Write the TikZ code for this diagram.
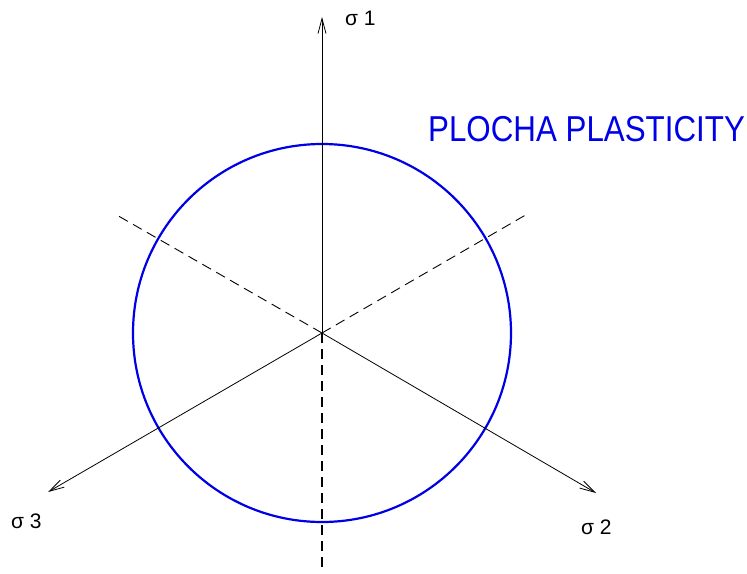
\documentclass[tikz,border=0pt]{standalone}
\usepackage{fontspec}
\setmainfont{Liberation Sans}
\usetikzlibrary{arrows.meta}
\begin{document}
\begin{tikzpicture}[x=1pt,y=-1pt,
  axis/.style={line width=0.8pt,-{Straight Barb[length=15pt,width=8pt,line width=0.8pt]}},
  guide/.style={line width=0.9pt,dash pattern=on 10pt off 6pt},
  guidebold/.style={line width=1.6pt,dash pattern=on 10pt off 6pt},
  surface/.style={draw={rgb,255:red,0;green,0;blue,230},line width=2.2pt},
  lbl/.style={font=\fontsize{21}{24}\selectfont,inner sep=0pt},
  title/.style={text={rgb,255:red,0;green,0;blue,230},font=\fontsize{36}{40}\selectfont,xscale=0.87,inner sep=0pt}]
\useasboundingbox (0,0) rectangle (747,573);
\coordinate (O) at (322,333);
\coordinate (s1) at (322,17);
\coordinate (s3) at (48,492);
\coordinate (s2) at (596,493);
\coordinate (dl) at (115,214);
\coordinate (dr) at (529,213);
\coordinate (db) at (322,573);
\draw[surface] (O) circle[radius=189];
\draw[axis] (O) -- (s1);
\draw[axis] (O) -- (s3);
\draw[axis] (O) -- (s2);
\draw[guide] (O) -- (dl);
\draw[guide] (O) -- (dr);
\draw[guidebold] (O) -- (db);
\node[lbl,anchor=west] (l1) at (345,18) {σ 1};
\node[lbl,anchor=west] (l3) at (11,521) {σ 3};
\node[lbl,anchor=west] (l2) at (581,527) {σ 2};
\node[title,anchor=west] (t) at (428,129) {PLOCHA PLASTICITY};
\end{tikzpicture}
\end{document}
